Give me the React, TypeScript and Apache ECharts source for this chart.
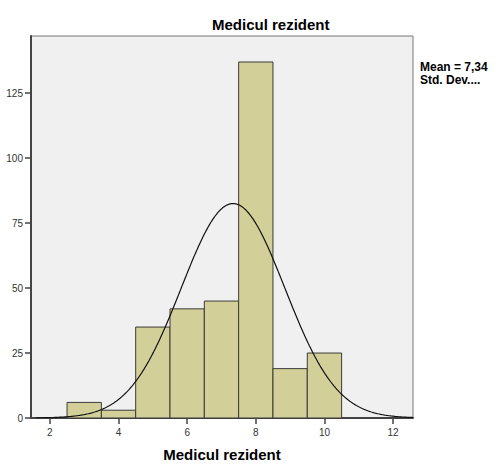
import React, { useEffect, useRef } from "react";
import * as echarts from "echarts";

const binStarts = [2.5, 3.5, 4.5, 5.5, 6.5, 7.5, 8.5, 9.5];
const binEnds = [3.5, 4.5, 5.5, 6.5, 7.5, 8.5, 9.5, 10.5];
const counts = [6, 3, 35, 42, 45, 137, 19, 25];
const xTicks = [2, 4, 6, 8, 10, 12];
const yTicks = [0, 25, 50, 75, 100, 125];
const titleText = "Medicul rezident";
const meanText = "Mean = 7,34";
const sdText = "Std. Dev....";

const X_MIN = 1.45;
const X_MAX = 12.58;
const Y_MAX = 147;

export default function App() {
  const ref = useRef<HTMLDivElement>(null);
  useEffect(() => {
    if (!ref.current) return;
    const chart = echarts.init(ref.current, undefined, { renderer: "svg" });

    // Fitted normal curve (mean/sd from binned data, scaled by n * bin width)
    const n = counts.reduce((a, b) => a + b, 0);
    const mids = binStarts.map((s, i) => (s + binEnds[i]) / 2);
    const mean = mids.reduce((a, m, i) => a + m * counts[i], 0) / n;
    const variance =
      mids.reduce((a, m, i) => a + counts[i] * (m - mean) * (m - mean), 0) / (n - 1);
    const sd = Math.sqrt(variance);
    const bw = 1;
    const curve: number[][] = [];
    for (let k = 0; k <= 400; k++) {
      const x = 1.6 + (k * (X_MAX - 1.6)) / 400;
      const y =
        (n * bw * Math.exp(-((x - mean) * (x - mean)) / (2 * sd * sd))) /
        (sd * Math.sqrt(2 * Math.PI));
      curve.push([x, y]);
    }

    const histData = binStarts.map((s, i) => [s, binEnds[i], counts[i]]);
    const font = "'Liberation Sans', Arial, sans-serif";

    chart.setOption({
      animation: false,
      grid: {
        left: 31,
        top: 36,
        right: 88,
        bottom: 46,
        outerBoundsMode: "none",
        containLabel: false,
        show: true,
        backgroundColor: "#F0F0F0",
        borderColor: "#777",
        borderWidth: 1,
      },
      title: {
        text: titleText,
        left: 207,
        top: 12,
        textStyle: { fontFamily: font, fontSize: 15, fontWeight: "bold", color: "#000" },
      },
      graphic: [
        {
          type: "text",
          left: 420,
          top: 61,
          style: { text: meanText, font: `bold 12px ${font}`, fill: "#000" },
        },
        {
          type: "text",
          left: 420,
          top: 74,
          style: { text: sdText, font: `bold 12px ${font}`, fill: "#000" },
        },
      ],
      xAxis: {
        type: "value",
        min: X_MIN,
        max: X_MAX,
        name: titleText,
        nameLocation: "middle",
        nameGap: 29,
        nameTextStyle: { fontFamily: font, fontSize: 15, fontWeight: "bold", color: "#000" },
        splitLine: { show: false },
        axisLine: { show: true, onZero: false, lineStyle: { color: "#444", width: 2 } },
        axisTick: { show: true, customValues: xTicks, length: 6, lineStyle: { color: "#444", width: 1.5 } },
        axisLabel: { customValues: xTicks, margin: 9, fontFamily: font, fontSize: 10, color: "#333" },
      },
      yAxis: {
        type: "value",
        min: 0,
        max: Y_MAX,
        splitLine: { show: false },
        axisLine: { show: true, lineStyle: { color: "#444", width: 2 } },
        axisTick: { show: true, customValues: yTicks, length: 6, lineStyle: { color: "#444", width: 1.5 } },
        axisLabel: { customValues: yTicks, margin: 8, fontFamily: font, fontSize: 10, color: "#333" },
      },
      series: [
        {
          type: "custom",
          data: histData,
          encode: { x: [0, 1], y: 2 },
          renderItem: (params: any, api: any) => {
            const p0 = api.coord([api.value(0), api.value(2)]);
            const p1 = api.coord([api.value(1), 0]);
            return {
              type: "rect",
              shape: { x: p0[0], y: p0[1], width: p1[0] - p0[0], height: p1[1] - p0[1] },
              style: { fill: "#D3CF98", stroke: "#3A3A3A", lineWidth: 1 },
            };
          },
          z: 2,
        },
        {
          type: "line",
          data: curve,
          showSymbol: false,
          symbol: "none",
          lineStyle: { color: "#111", width: 1.2 },
          z: 3,
        },
      ],
    });
    return () => chart.dispose();
  }, []);
  return (
    <div
      ref={ref}
      style={{ position: "absolute", left: 0, top: 0, width: 501, height: 464, background: "#fff" }}
    />
  );
}
